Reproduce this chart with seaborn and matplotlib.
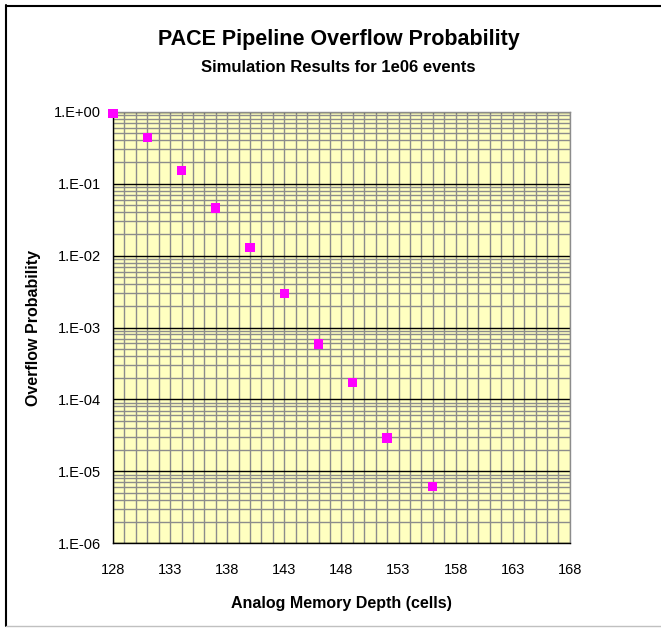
import matplotlib
matplotlib.use("Agg")
import matplotlib.pyplot as plt
from matplotlib.ticker import FixedLocator, MultipleLocator, LogLocator, NullFormatter
from matplotlib.lines import Line2D
import seaborn as sns
import pandas as pd
import numpy as np

# Simulation results: memory depth (cells) vs. overflow probability
depth = [128, 131, 134, 137, 140, 143, 146, 149, 152, 156]
overflow_prob = [0.95, 0.44, 0.152, 0.046, 0.0131, 0.00295, 0.00059, 0.000173, 0.000029, 0.0000061]

x_ticks = [128, 133, 138, 143, 148, 153, 158, 163, 168]
y_ticks = [1e-6, 1e-5, 1e-4, 1e-3, 1e-2, 1e-1, 1e0]
y_tick_labels = ["1.E-06", "1.E-05", "1.E-04", "1.E-03", "1.E-02", "1.E-01", "1.E+00"]

df = pd.DataFrame({"depth": depth, "prob": overflow_prob})

sns.set_theme(style="white")
plt.rcParams["font.family"] = ["Liberation Sans", "DejaVu Sans"]
plt.rcParams["text.color"] = "black"
plt.rcParams["axes.labelcolor"] = "black"
plt.rcParams["xtick.color"] = "black"
plt.rcParams["ytick.color"] = "black"

fig = plt.figure(figsize=(6.61, 6.28), dpi=100)
ax = fig.add_axes([0.171, 0.135, 0.691, 0.687])
ax.set_facecolor("#FFFFC0")

ax.set_yscale("log")
ax.set_xlim(128, 168)
ax.set_ylim(1e-6, 1e0)

# grid: minor x every cell, minor y at 2..9 per decade, decades in black
ax.xaxis.set_major_locator(FixedLocator(x_ticks))
ax.xaxis.set_minor_locator(MultipleLocator(1))
ax.yaxis.set_major_locator(FixedLocator(y_ticks))
ax.yaxis.set_minor_locator(LogLocator(base=10, subs=np.arange(2, 10)))
ax.yaxis.set_minor_formatter(NullFormatter())
ax.set_yticklabels(y_tick_labels)
ax.set_xticklabels([str(v) for v in x_ticks])

ax.grid(True, which="minor", axis="both", color="#8C8C8C", linewidth=1.0)
ax.grid(True, which="major", axis="x", color="#8C8C8C", linewidth=1.0)
ax.grid(True, which="major", axis="y", color="black", linewidth=1.0)
ax.set_axisbelow(True)

sns.scatterplot(data=df, x="depth", y="prob", marker="s", s=45, color="#FF00FF",
                edgecolor="none", ax=ax, zorder=5, clip_on=False, legend=False)

for side in ["top", "right"]:
    ax.spines[side].set_color("#8C8C8C")
    ax.spines[side].set_linewidth(1.0)
for side in ["left", "bottom"]:
    ax.spines[side].set_color("black")
    ax.spines[side].set_linewidth(1.0)

ax.tick_params(axis="both", which="major", direction="out", length=5, width=1,
               color="black", labelsize=10.5, labelcolor="black", pad=4)
ax.tick_params(axis="x", which="major", pad=9)
ax.tick_params(axis="both", which="minor", length=0)

ax.set_xlabel("Analog Memory Depth (cells)", fontsize=11.5, fontweight="bold", labelpad=14)
ax.set_ylabel("Overflow Probability", fontsize=11.5, fontweight="bold", labelpad=9)

fig.text(0.512, 0.937, "PACE Pipeline Overflow Probability", ha="center", va="center",
         fontsize=15.5, fontweight="bold", color="black")
fig.text(0.512, 0.893, "Simulation Results for 1e06 events", ha="center", va="center",
         fontsize=12, fontweight="bold", color="black")

# chart frame
fig.add_artist(Line2D([5.5 / 661, 5.5 / 661], [1 - 5 / 628, 1 - 626 / 628], color="black", linewidth=1.5))
fig.add_artist(Line2D([5.5 / 661, 1.0], [1 - 5.5 / 628, 1 - 5.5 / 628], color="black", linewidth=1.5))
fig.add_artist(Line2D([5.5 / 661, 1.0], [1 - 626 / 628, 1 - 626 / 628], color="#C0C0C0", linewidth=1.0))

fig.savefig("out.png", dpi=100)
